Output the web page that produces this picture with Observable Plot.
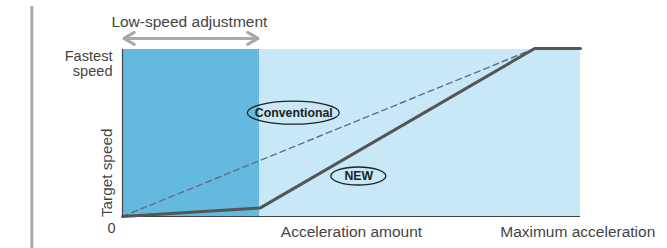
<!DOCTYPE html>
<html>
<head>
<meta charset="utf-8">
<script src="https://cdn.jsdelivr.net/npm/d3@7"></script>
<script src="https://cdn.jsdelivr.net/npm/@observablehq/plot@0.6"></script>
<style>
  html, body { margin: 0; padding: 0; background: #fff; }
  #chart { width: 667px; height: 248px; }
</style>
</head>
<body>
<div id="chart"></div>
<script>
// ---- data (data units: acceleration 0..100, target speed 0..100) ----
const zones = [
  {x1: 0, x2: 30, zone: "low"},
  {x1: 30, x2: 100, zone: "normal"}
];
const conventional = [
  {x: 0, y: 0},
  {x: 90, y: 100}
];
const newCurve = [
  {x: 0, y: 0},
  {x: 30, y: 5},
  {x: 90, y: 100},
  {x: 100, y: 100}
];
const seriesLabels = [
  {label: "Conventional", x: 37.4, y: 61.5, rx: 46, ry: 11.5},
  {label: "NEW", x: 51.6, y: 23.8, rx: 27.5, ry: 9}
];
const xTickLabels = [
  {x: 50, label: "Acceleration amount"},
  {x: 99.4, label: "Maximum acceleration"}
];
const yTickLabels = [
  {y: 91, label: "Fastest\nspeed"},
  {y: 0, label: "0"}
];
const arrowSpan = {x1: 0.3, x2: 29.6, mid: 15, y: 106};
const annotation = [{x: 14.6, y: 115.5, label: "Low-speed adjustment"}];
const frameRule = [{x: -19.8, y1: -20, y2: 125}];

// ---- custom mark: ellipse outlines placed through the plot's scales ----
function ellipses(data) {
  return (index, scales) => {
    const g = d3.create("svg:g");
    g.selectAll("ellipse").data(data).join("ellipse")
      .attr("cx", d => scales.x(d.x))
      .attr("cy", d => scales.y(d.y))
      .attr("rx", d => d.rx)
      .attr("ry", d => d.ry)
      .attr("fill", "none")
      .attr("stroke", "#222")
      .attr("stroke-width", 1.3);
    return g.node();
  };
}

const chart = Plot.plot({
  width: 667,
  height: 248,
  marginLeft: 122,
  marginRight: 87,
  marginTop: 48,
  marginBottom: 32,
  x: {domain: [0, 100], axis: null},
  y: {domain: [0, 100], axis: null},
  style: {fontFamily: "'Liberation Sans', Arial, sans-serif", background: "#fff", overflow: "visible"},
  marks: [
    Plot.rectY(zones, {x1: "x1", x2: "x2", y1: 0, y2: 99.4,
      fill: d => d.zone === "low" ? "#63b9de" : "#c8e7f7"}),
    Plot.ruleX(frameRule, {x: "x", y1: "y1", y2: "y2", stroke: "#aaa", strokeWidth: 3, clip: false}),
    Plot.ruleY([0], {stroke: "#444", strokeWidth: 1.2}),
    Plot.ruleX([0], {y1: 0, y2: 99.4, stroke: "#444", strokeWidth: 1.2}),
    Plot.line(conventional, {x: "x", y: "y", stroke: "#68688a", strokeWidth: 1.4, strokeDasharray: "6,4"}),
    Plot.line(newCurve, {x: "x", y: "y", stroke: "#555", strokeWidth: 3, strokeLinejoin: "miter"}),
    ellipses(seriesLabels),
    Plot.text(seriesLabels, {x: "x", y: "y", text: "label", fontSize: 12.3, fontWeight: "bold", fill: "#222"}),
    Plot.arrow([arrowSpan, arrowSpan], {
      x1: "mid", x2: (d, i) => i === 0 ? d.x1 : d.x2, y1: "y", y2: "y",
      stroke: "#a9a9a9", strokeWidth: 3, headLength: 6, headAngle: 60, insetEnd: 0
    }),
    Plot.text(annotation, {x: "x", y: "y", text: "label", fontSize: 15.5, fill: "#444"}),
    Plot.text(xTickLabels, {x: "x", y: 0, text: "label", dy: 16, fontSize: 15.5, fill: "#444"}),
    Plot.text(yTickLabels.filter(d => d.y > 0), {x: 0, y: "y", text: "label", dx: -10, textAnchor: "end",
      fontSize: 14.6, lineHeight: 1.03, fill: "#444"}),
    Plot.text(yTickLabels.filter(d => d.y === 0), {x: 0, y: "y", text: "label", dx: -11, dy: 12, fontSize: 14.5, fill: "#444"}),
    Plot.text(["Target speed"], {x: 0, y: 26, text: d => d, rotate: -90, dx: -15, fontSize: 15.3, fill: "#444"})
  ]
});
document.getElementById("chart").appendChild(chart);
</script>
</body>
</html>
